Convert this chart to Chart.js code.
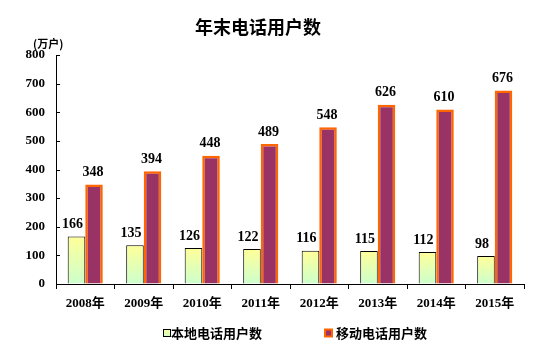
<!DOCTYPE html>
<html>
<head>
<meta charset="utf-8">
<script src="https://cdn.jsdelivr.net/npm/chart.js@4.4.1/dist/chart.umd.min.js"></script>
<style>
  html, body { margin: 0; padding: 0; background: #ffffff; }
  #wrap { width: 554px; height: 350px; position: relative; }
</style>
</head>
<body>
<div id="wrap"><canvas id="c" width="554" height="350"></canvas></div>
<script>
const title = "年末电话用户数";
const unitLabel = "(万户)";
const categories = ["2008年", "2009年", "2010年", "2011年", "2012年", "2013年", "2014年", "2015年"];
const localSeriesName = "本地电话用户数";
const mobileSeriesName = "移动电话用户数";
const localValues = [166, 135, 126, 122, 116, 115, 112, 98];
const mobileValues = [348, 394, 448, 489, 548, 626, 610, 676];
const yTicks = [0, 100, 200, 300, 400, 500, 600, 700, 800];

const NUM_FONT = '"Liberation Serif", "Noto Sans CJK SC", serif';
const CJK_FONT = '"Noto Sans CJK SC", "Liberation Serif", sans-serif';

function localGradient(ctx) {
  const chart = ctx.chart;
  const area = chart.chartArea;
  if (!area || ctx.parsed === undefined || ctx.parsed === null) return '#FFFF99';
  const ys = chart.scales.y;
  const top = ys.getPixelForValue(ctx.parsed.y);
  const bottom = ys.getPixelForValue(0);
  const g = chart.ctx.createLinearGradient(0, top, 0, bottom);
  g.addColorStop(0, '#FFFF99');
  g.addColorStop(1, '#CCFFCC');
  return g;
}

const decorPlugin = {
  id: 'decor',
  afterDraw(chart) {
    const c = chart.ctx;
    const ys = chart.scales.y;
    const area = chart.chartArea;
    c.save();
    // inward y ticks
    c.strokeStyle = '#000';
    c.lineWidth = 1;
    yTicks.forEach(v => {
      const y = Math.round(ys.getPixelForValue(v)) + 0.5;
      c.beginPath();
      c.moveTo(area.left, y);
      c.lineTo(area.left + 4, y);
      c.stroke();
    });
    // title
    c.fillStyle = '#000';
    c.textAlign = 'center';
    c.textBaseline = 'middle';
    c.font = 'bold 18px ' + CJK_FONT;
    c.fillText(title, 258, 27);
    // unit
    c.font = 'bold 11px ' + CJK_FONT;
    c.textAlign = 'left';
    c.fillText(unitLabel, 33, 44);
    // value labels
    c.font = 'bold 14px ' + NUM_FONT;
    c.textAlign = 'center';
    c.textBaseline = 'middle';
    chart.data.datasets.forEach((ds, di) => {
      const meta = chart.getDatasetMeta(di);
      meta.data.forEach((el, i) => {
        const dx = di === 0 ? -4 : -1;
        c.fillText(String(ds.data[i]), el.x + dx, el.y - 12);
      });
    });
    // legend
    const legendItems = [
      { x: 163, textX: 171, fill: '#FFFF99', stroke: '#000', lw: 1, name: localSeriesName, fill2: '#CCFFCC' },
      { x: 324, textX: 336, fill: '#993366', stroke: '#FF6600', lw: 2, name: mobileSeriesName }
    ];
    legendItems.forEach((it, k) => {
      const by = 329;
      if (k === 0) {
        const g = c.createLinearGradient(0, by, 0, by + 8);
        g.addColorStop(0, '#FFFF99');
        g.addColorStop(1, '#CCFFCC');
        c.fillStyle = g;
        c.fillRect(it.x + 0.5, by + 0.5, 7, 7);
        c.strokeStyle = '#000';
        c.lineWidth = 1;
        c.strokeRect(it.x + 0.5, by + 0.5, 7, 7);
      } else {
        c.fillStyle = '#FF6600';
        c.fillRect(it.x, by - 0.5, 9, 9);
        c.fillStyle = '#993366';
        c.fillRect(it.x + 2, by + 1.5, 5, 5);
      }
      c.fillStyle = '#000';
      c.font = 'bold 13px ' + CJK_FONT;
      c.textAlign = 'left';
      c.textBaseline = 'middle';
      c.fillText(it.name, it.textX, 333.5);
    });
    c.restore();
  }
};

new Chart(document.getElementById('c'), {
  type: 'bar',
  data: {
    labels: categories,
    datasets: [
      {
        label: localSeriesName,
        data: localValues,
        backgroundColor: localGradient,
        borderColor: '#000000',
        borderWidth: 1,
        borderSkipped: 'bottom',
        categoryPercentage: 0.6,
        barPercentage: 1.0
      },
      {
        label: mobileSeriesName,
        data: mobileValues,
        backgroundColor: '#993366',
        borderColor: '#FF6600',
        borderWidth: 2.5,
        borderSkipped: 'bottom',
        categoryPercentage: 0.6,
        barPercentage: 1.0
      }
    ]
  },
  options: {
    responsive: false,
    animation: false,
    devicePixelRatio: 1,
    layout: { padding: { left: 0, top: 55, right: 30, bottom: 0 } },
    plugins: {
      legend: { display: false },
      title: { display: false },
      tooltip: { enabled: false }
    },
    scales: {
      x: {
        grid: { offset: true, drawOnChartArea: false, drawTicks: true, tickLength: 5, color: '#000' },
        border: { display: true, color: '#000', width: 1 },
        ticks: { color: '#000', font: { family: NUM_FONT, size: 13, weight: 'bold' }, padding: 7, maxRotation: 0, autoSkip: false },
        afterFit(scale) { scale.height = 66; }
      },
      y: {
        min: 0,
        max: 800,
        grid: { drawOnChartArea: false, drawTicks: false },
        border: { display: true, color: '#000', width: 1 },
        ticks: { stepSize: 100, color: '#000', font: { family: NUM_FONT, size: 13, weight: 'bold' }, padding: 11 },
        afterFit(scale) { scale.width = 56; }
      }
    }
  },
  plugins: [decorPlugin]
});
</script>
</body>
</html>
